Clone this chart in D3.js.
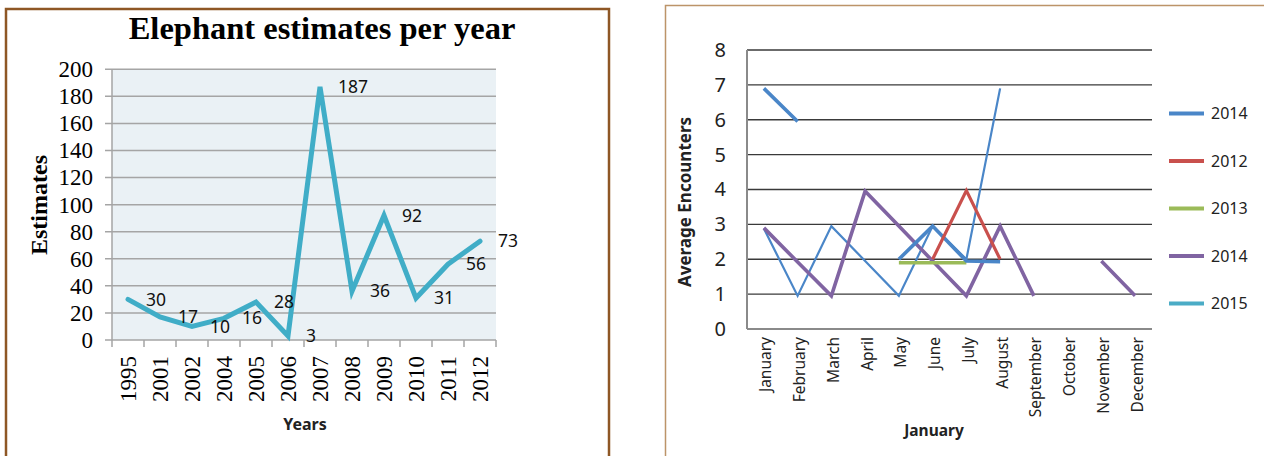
<!DOCTYPE html>
<html><head><meta charset="utf-8">
<script src="https://cdn.jsdelivr.net/npm/d3@7"></script>
<style>body{margin:0;background:#fff;overflow:hidden}</style>
</head><body>
<svg id="c" width="1264" height="456"></svg>
<script>
// ---------- Left chart data ----------
const years = ["1995","2001","2002","2004","2005","2006","2007","2008","2009","2010","2011","2012"];
const estimates = [30,17,10,16,28,3,187,36,92,31,56,73];
const estimateTicks = [0,20,40,60,80,100,120,140,160,180,200];
const leftTitle = "Elephant estimates per year";
const leftYTitle = "Estimates";
const leftXTitle = "Years";

// ---------- Right chart data ----------
const months = ["January","February","March","April","May","June","July","August","September","October","November","December"];
const blue2014 = [6.9, 5.95, null, null, 2, 2.95, 1.95, 1.93, null, null, null, null];
const blueThin = [2.88, 0.95, 2.95, 1.95, 0.95, 2.95, 2, 6.9, null, null, null, null];
const red2012 = [null, null, null, null, null, 2, 3.97, 2, null, null, null, null];
const green2013 = [null, null, null, null, 1.9, 1.9, 1.9, null, null, null, null, null];
const purple2014 = [2.9, 1.92, 0.95, 3.95, 2.95, 1.95, 0.95, 2.95, 0.95, null, 1.95, 0.95];
const cyan2015 = [null, null, null, null, null, null, null, null, null, null, null, null];
const legendNames = ["2014","2012","2013","2014","2015"];
const encounterTicks = [0,1,2,3,4,5,6,7,8];
const rightYTitle = "Average Encounters";
const rightXTitle = "January";

const svg = d3.select("#c");

// ================= LEFT CHART =================
svg.append("rect").attr("x",6).attr("y",9).attr("width",603).attr("height",470)
  .attr("fill","#fff").attr("stroke","#8E5725").attr("stroke-width",2.5);

svg.append("text").attr("x",322).attr("y",39).attr("text-anchor","middle")
  .attr("font-family","Liberation Serif").attr("font-weight","bold").attr("font-size",32.5)
  .attr("fill","#000").text(leftTitle);

const lx = d3.scaleBand().domain(years).range([112,496]);
const ly = d3.scaleLinear().domain([0,200]).range([340,69.3]);

svg.append("rect").attr("x",112).attr("y",ly(200)).attr("width",496-112).attr("height",ly(0)-ly(200))
  .attr("fill","#EAF1F5");

svg.append("g").selectAll("line").data(estimateTicks).join("line")
  .attr("x1",105).attr("x2",496).attr("y1",d=>ly(d)).attr("y2",d=>ly(d))
  .attr("stroke","#A5A5A5").attr("stroke-width",1.5);

svg.append("line").attr("x1",112).attr("x2",112).attr("y1",ly(200)).attr("y2",ly(0))
  .attr("stroke","#A5A5A5").attr("stroke-width",1.5);

const lyAxis = d3.axisLeft(ly).tickValues(estimateTicks).tickSize(0).tickPadding(0);
const gly = svg.append("g").attr("transform","translate(93,0)").call(lyAxis);
gly.select(".domain").remove();
gly.selectAll("text").attr("font-family","Liberation Serif").attr("font-size",23).attr("fill","#000");

const lxAxis = d3.axisBottom(lx).tickSize(0).tickPadding(0);
const glx = svg.append("g").attr("transform","translate(0,340)").call(lxAxis);
glx.select(".domain").remove();
glx.selectAll("text").attr("font-family","Liberation Serif").attr("font-size",23).attr("fill","#000")
  .attr("text-anchor","end").attr("transform","translate(0,16) rotate(-90)").attr("dy","0.35em").attr("y",0).attr("x",0);
svg.append("g").selectAll("line").data(years.concat(["__end"])).join("line")
  .attr("x1",(d,i)=>112+i*lx.step()).attr("x2",(d,i)=>112+i*lx.step())
  .attr("y1",340).attr("y2",347).attr("stroke","#A5A5A5").attr("stroke-width",1.5);

const lline = d3.line().x((d,i)=>lx(years[i])+lx.bandwidth()/2).y(d=>ly(d));
svg.append("path").datum(estimates).attr("d",lline).attr("fill","none")
  .attr("stroke","#40ADC7").attr("stroke-width",5).attr("stroke-linejoin","miter").attr("stroke-linecap","round");

svg.append("g").selectAll("text").data(estimates).join("text")
  .attr("x",(d,i)=>lx(years[i])+lx.bandwidth()/2+18).attr("y",d=>ly(d)).attr("dy","0.35em")
  .attr("font-family","Noto Sans").attr("font-size",17.5).attr("fill","#111").text(d=>d);

svg.append("text").attr("transform","translate(47,205) rotate(-90)").attr("text-anchor","middle")
  .attr("font-family","Liberation Serif").attr("font-weight","bold").attr("font-size",24).attr("fill","#000").text(leftYTitle);
svg.append("text").attr("x",305).attr("y",430).attr("text-anchor","middle")
  .attr("font-family","Noto Sans").attr("font-weight","bold").attr("font-size",16).attr("fill","#222").text(leftXTitle);

// ================= RIGHT CHART =================
svg.append("rect").attr("x",665.5).attr("y",5.5).attr("width",700).attr("height",470)
  .attr("fill","#fff").attr("stroke","#BC9469").attr("stroke-width",1.5);

const rx = d3.scaleBand().domain(months).range([747,1152]);
const ry = d3.scaleLinear().domain([0,8]).range([329,50]);

svg.append("g").selectAll("line").data(encounterTicks.filter(d=>d>0)).join("line")
  .attr("x1",747).attr("x2",1152).attr("y1",d=>ry(d)).attr("y2",d=>ry(d))
  .attr("stroke","#3a3a3a").attr("stroke-width",1.3);
svg.append("line").attr("x1",747).attr("x2",1152).attr("y1",ry(0)).attr("y2",ry(0))
  .attr("stroke","#8a8a8a").attr("stroke-width",2);
svg.append("line").attr("x1",747).attr("x2",747).attr("y1",ry(8)).attr("y2",ry(0))
  .attr("stroke","#8a8a8a").attr("stroke-width",2);

const ryAxis = d3.axisLeft(ry).tickValues(encounterTicks).tickSize(0).tickPadding(0);
const gry = svg.append("g").attr("transform","translate(726,0)").call(ryAxis);
gry.select(".domain").remove();
gry.selectAll("text").attr("font-family","Noto Sans").attr("font-size",20).attr("fill","#222");

const rxAxis = d3.axisBottom(rx).tickSize(0).tickPadding(0);
const grx = svg.append("g").attr("transform","translate(0,329)").call(rxAxis);
grx.select(".domain").remove();
grx.selectAll("text").attr("font-family","Noto Sans").attr("font-size",15.5).attr("fill","#222")
  .attr("text-anchor","end").attr("transform","translate(2,8) rotate(-90)").attr("dy","0.35em").attr("y",0).attr("x",0);

const rline = d3.line().defined(d=>d!=null).x((d,i)=>rx(months[i])+rx.bandwidth()/2).y(d=>ry(d));
const rSeries = [
  {v: blueThin, c:"#4A86C8", w:2.2},
  {v: purple2014, c:"#8064A2", w:3.6},
  {v: green2013, c:"#9BBB59", w:3.5},
  {v: blue2014, c:"#4A86C8", w:3.6},
  {v: red2012, c:"#C9504D", w:3.2},
  {v: cyan2015, c:"#4BACC6", w:3.5}
];
svg.append("g").selectAll("path").data(rSeries).join("path")
  .attr("d",d=>rline(d.v)).attr("fill","none").attr("stroke",d=>d.c).attr("stroke-width",d=>d.w)
  .attr("stroke-linejoin","miter").attr("stroke-linecap","butt");

const legendColors = ["#4A86C8","#C9504D","#9BBB59","#8064A2","#4BACC6"];
const lg = svg.append("g").selectAll("g").data(legendNames).join("g")
  .attr("transform",(d,i)=>`translate(1169,${113.5+i*47.5})`);
lg.append("line").attr("x1",0).attr("x2",35).attr("y1",0).attr("y2",0)
  .attr("stroke",(d,i)=>legendColors[i]).attr("stroke-width",4);
lg.append("text").attr("x",42).attr("y",0).attr("dy","0.35em")
  .attr("font-family","Noto Sans").attr("font-size",16).attr("fill","#222").text(d=>d);

svg.append("text").attr("transform","translate(691,202) rotate(-90)").attr("text-anchor","middle")
  .attr("font-family","Noto Sans").attr("font-weight","bold").attr("font-size",17).attr("fill","#222").text(rightYTitle);
svg.append("text").attr("x",934).attr("y",436).attr("text-anchor","middle")
  .attr("font-family","Noto Sans").attr("font-weight","bold").attr("font-size",15.5).attr("fill","#222").text(rightXTitle);
</script>
</body></html>
